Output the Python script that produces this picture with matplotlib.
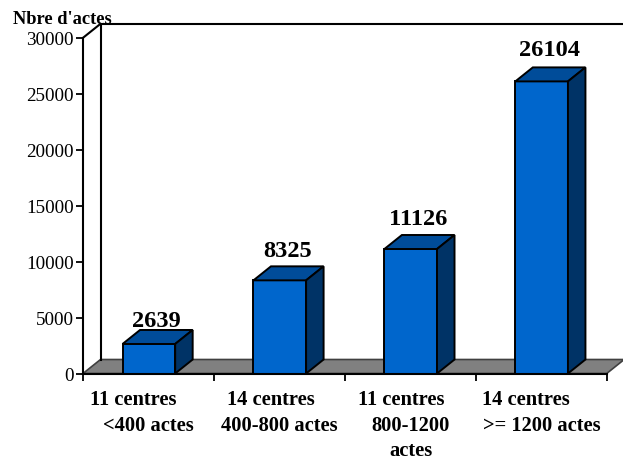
import matplotlib
matplotlib.use('Agg')
import matplotlib.pyplot as plt
from matplotlib.patches import Polygon

plt.rcParams['font.family'] = ['Liberation Serif']

first_line = ['11 centres', '14 centres', '11 centres', '14 centres']
other_lines = [['<400 actes'], ['400-800 actes'], ['800-1200', 'actes'], ['>= 1200 actes']]
values = [2639, 8325, 11126, 26104]
y_ticks = [0, 5000, 10000, 15000, 20000, 25000, 30000]
y_title = "Nbre d'actes"

W, H = 623, 460
# plot box in pixels, measured from the top left corner
left, right, top, bottom = 83, 606.7, 38.8, 374.5
depth_px_x, depth_px_y = 17.5, 14
PT = 0.72  # points per pixel at dpi 100

front_color = '#0066CC'
top_color = '#004C99'
side_color = '#003366'
floor_color = '#808080'

fig = plt.figure(figsize=(W / 100, H / 100), dpi=100)
ax = fig.add_axes([left / W, 1 - bottom / H, (right - left) / W, (bottom - top) / H])
ax.set_xlim(0, len(values))
ax.set_ylim(0, y_ticks[-1])

# depth of the fake 3d box, in data units
dx = depth_px_x / ((right - left) / len(values))
dy = depth_px_y / ((bottom - top) / y_ticks[-1])
ymax = y_ticks[-1]
xmax = len(values)

# floor and back walls
ax.add_patch(Polygon([(0, 0), (xmax, 0), (xmax + dx, dy), (dx, dy)], closed=True,
                     facecolor=floor_color, edgecolor='#404040', linewidth=1.2,
                     clip_on=False, zorder=1))
ax.plot([dx, dx, xmax + dx], [dy, ymax + dy, ymax + dy], color='black', lw=1.5,
        clip_on=False, zorder=1)
ax.plot([0, dx], [ymax, ymax + dy], color='black', lw=1.5, clip_on=False, zorder=1)

# extra lift of the value labels above each bar, in pixels
label_lift = [0, 6, 7, 8]

bar_w = 0.402
for i, v in enumerate(values):
    x0 = i + 0.5 - bar_w / 2 + 0.003
    x1 = x0 + bar_w
    ax.add_patch(Polygon([(x0, 0), (x1, 0), (x1, v), (x0, v)], closed=True,
                         facecolor=front_color, edgecolor='black', lw=1.4,
                         clip_on=False, zorder=3))
    ax.add_patch(Polygon([(x0, v), (x1, v), (x1 + dx, v + dy), (x0 + dx, v + dy)], closed=True,
                         facecolor=top_color, edgecolor='black', lw=1.4,
                         clip_on=False, zorder=3))
    ax.add_patch(Polygon([(x1, 0), (x1 + dx, dy), (x1 + dx, v + dy), (x1, v)], closed=True,
                         facecolor=side_color, edgecolor='black', lw=1.4,
                         clip_on=False, zorder=3))
    ax.annotate(str(v), ((x0 + x1 + dx) / 2, v + dy), xytext=(-1 * PT, (label_lift[i] - 1) * PT),
                textcoords='offset points', ha='center', va='bottom',
                fontsize=17.6, fontweight='bold', zorder=4)

for s in ['top', 'right']:
    ax.spines[s].set_visible(False)
for s in ['left', 'bottom']:
    ax.spines[s].set_linewidth(1.5)
    ax.spines[s].set_zorder(5)

ax.set_yticks(y_ticks)
ax.set_yticklabels([str(t) for t in y_ticks], fontsize=13.8)
ax.tick_params(axis='y', length=5.2, width=1.3, pad=1.5)
ax.set_xticks(range(xmax + 1))
ax.set_xticklabels([])
ax.tick_params(axis='x', length=5.2, width=1.3)

# first line of each category sits left of the rest, as if padded with spaces
first_shift = [-16, -8.5, -9.5, -16]
line_drop = [25.5, 52, 76.5]
for i in range(xmax):
    cx = i + 0.5 + 0.003
    ax.annotate(first_line[i], (cx, 0), xytext=(first_shift[i] * PT, -line_drop[0] * PT),
                textcoords='offset points', ha='center', va='center',
                fontsize=14.8, fontweight='bold', annotation_clip=False)
    for j, line in enumerate(other_lines[i]):
        ax.annotate(line, (cx, 0), xytext=(0, -line_drop[j + 1] * PT),
                    textcoords='offset points', ha='center', va='center',
                    fontsize=14.8, fontweight='bold', annotation_clip=False)

fig.text(13 / W, 1 - 24 / H, y_title, ha='left', va='baseline', fontsize=13.3, fontweight='bold')

fig.savefig('out.png', dpi=100)
